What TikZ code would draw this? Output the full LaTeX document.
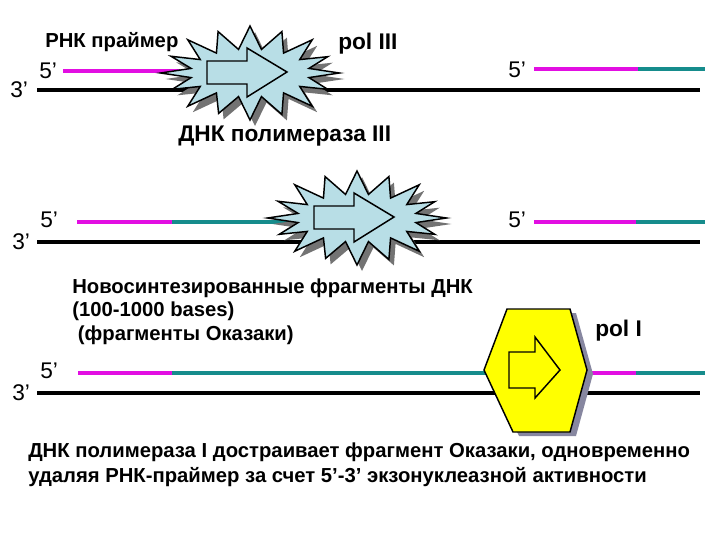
\documentclass[tikz,border=0pt]{standalone}
\usepackage{fontspec}
\setmainfont{Liberation Sans}
\definecolor{mag}{RGB}{226,14,226}
\definecolor{tealdna}{RGB}{22,140,140}
\definecolor{burstblue}{RGB}{184,222,230}
\definecolor{hexyellow}{RGB}{255,255,0}
\definecolor{shadowgray}{RGB}{115,115,115}
\definecolor{hexshadow}{RGB}{135,135,160}
\begin{document}
\begin{tikzpicture}[x=0.75pt,y=-0.75pt,
  strand/.style={line width=3pt, black},
  primer/.style={line width=2.6pt, mag},
  newdna/.style={line width=2.6pt, tealdna},
  endlbl/.style={anchor=base west, inner sep=0pt, font=\fontsize{17}{20}\selectfont},
  boldlbl/.style={anchor=base west, inner sep=0pt, font=\bfseries\fontsize{15.2}{18}\selectfont},
  bigbold/.style={anchor=base west, inner sep=0pt, font=\bfseries\fontsize{17}{20}\selectfont},
  burstpath/.style={insert path={
    \foreach \a/\f in {0/1.05,11/0,22/0.85,34/0,45/1.0,56/0,68/0.9,79/0,90/1.0,101/0,112/0.85,124/0,135/1.0,146/0,158/0.85,169/0,180/1.05,191/0,202/0.9,214/0,225/1.0,236/0,248/0.9,259/0,270/1.0,281/0,292/0.9,304/0,315/1.0,326/0,338/0.85,349/0}
    {\ifnum\a=0 ({(60+28*\f)*cos(\a)},{(24+23*\f)*sin(\a)})\else -- ({(60+28*\f)*cos(\a)},{(24+23*\f)*sin(\a)})\fi} -- cycle}},
  blockarrow/.style={insert path={(-43,-12) -- (-3,-12) -- (-3,-25) -- (37,-1) -- (-3,24) -- (-3,11) -- (-43,11) -- cycle}},
  hexarrow/.style={insert path={(-23,-18) -- (3,-18) -- (3,-33) -- (28,0) -- (3,28) -- (3,18) -- (-23,18) -- cycle}},
  hexpath/.style={insert path={(-25,-61) -- (38,-61) -- (55,0) -- (38,62) -- (-19,62) -- (-48,0) -- cycle}},
  pics/burst/.style={code={
    \fill[shadowgray, shift={(5,6)}] [burstpath];
    \filldraw[fill=burstblue, draw=black, line width=1.1pt] [burstpath];
    \draw[black, line width=1.1pt] [blockarrow];
  }},
  pics/hexpol/.style={code={
    \fill[hexshadow, shift={(6,4)}] [hexpath];
    \filldraw[fill=hexyellow, draw=black, line width=1.1pt] [hexpath];
    \draw[black, line width=1.1pt] [hexarrow];
  }}]
\useasboundingbox (0,0) rectangle (720,540);

% ---------- row 1 ----------
\coordinate (s1a) at (37,90);  \coordinate (s1b) at (700,90);
\coordinate (p1a) at (63,71);  \coordinate (p1b) at (180,71);
\coordinate (q1a) at (534,69); \coordinate (q1m) at (638,69); \coordinate (q1b) at (705,69);
\draw[strand] (s1a) -- (s1b);
\draw[primer] (p1a) -- (p1b);
\draw[primer] (q1a) -- (q1m);
\draw[newdna] (q1m) -- (q1b);
\pic (burst1) at (250,73) {burst};
\node[endlbl] (l3a) at (10,97) {3’};
\node[endlbl] (l5a) at (39,78) {5’};
\node[endlbl] (l5b) at (508,77) {5’};
\node[boldlbl] (rnk) at (45,47) {РНК праймер};
\node[bigbold] (pol3) at (338,49) {pol III};
\node[bigbold] (dnkpol3) at (178,141) {ДНК полимераза III};

% ---------- row 2 ----------
\coordinate (s2a) at (37,242);  \coordinate (s2b) at (700,242);
\coordinate (p2a) at (77,222);  \coordinate (p2m) at (172,222); \coordinate (p2b) at (290,222);
\coordinate (q2a) at (534,222); \coordinate (q2m) at (636,222); \coordinate (q2b) at (705,222);
\draw[strand] (s2a) -- (s2b);
\draw[primer] (p2a) -- (p2m);
\draw[newdna] (p2m) -- (p2b);
\draw[primer] (q2a) -- (q2m);
\draw[newdna] (q2m) -- (q2b);
\pic (burst2) at (357,218) {burst};
\node[endlbl] (l3b) at (12,249) {3’};
\node[endlbl] (l5c) at (40,227) {5’};
\node[endlbl] (l5d) at (508,227) {5’};

% ---------- row 3 ----------
\coordinate (s3a) at (37,393);  \coordinate (s3b) at (700,393);
\coordinate (p3a) at (78,373);  \coordinate (p3m) at (172,373); \coordinate (p3b) at (500,373);
\coordinate (q3a) at (570,373); \coordinate (q3m) at (636,373); \coordinate (q3b) at (705,373);
\draw[strand] (s3a) -- (s3b);
\draw[primer] (p3a) -- (p3m);
\draw[newdna] (p3m) -- (p3b);
\draw[primer] (q3a) -- (q3m);
\draw[newdna] (q3m) -- (q3b);
\pic (hex) at (532,370) {hexpol};
\node[endlbl] (l3c) at (12,400) {3’};
\node[endlbl] (l5e) at (40,378) {5’};
\node[boldlbl] (new1) at (72,293) {Новосинтезированные фрагменты ДНК};
\node[boldlbl] (new2) at (72,316) {(100-1000 bases)};
\node[boldlbl] (new3) at (72,340) {\ (фрагменты Оказаки)};
\node[bigbold] (pol1) at (595,336) {pol I};

% ---------- caption ----------
\node[boldlbl] (cap1) at (28,457) {ДНК полимераза I достраивает фрагмент Оказаки, одновременно};
\node[boldlbl] (cap2) at (28,482) {удаляя РНК-праймер за счет 5’-3’ экзонуклеазной активности};
\end{tikzpicture}
\end{document}
